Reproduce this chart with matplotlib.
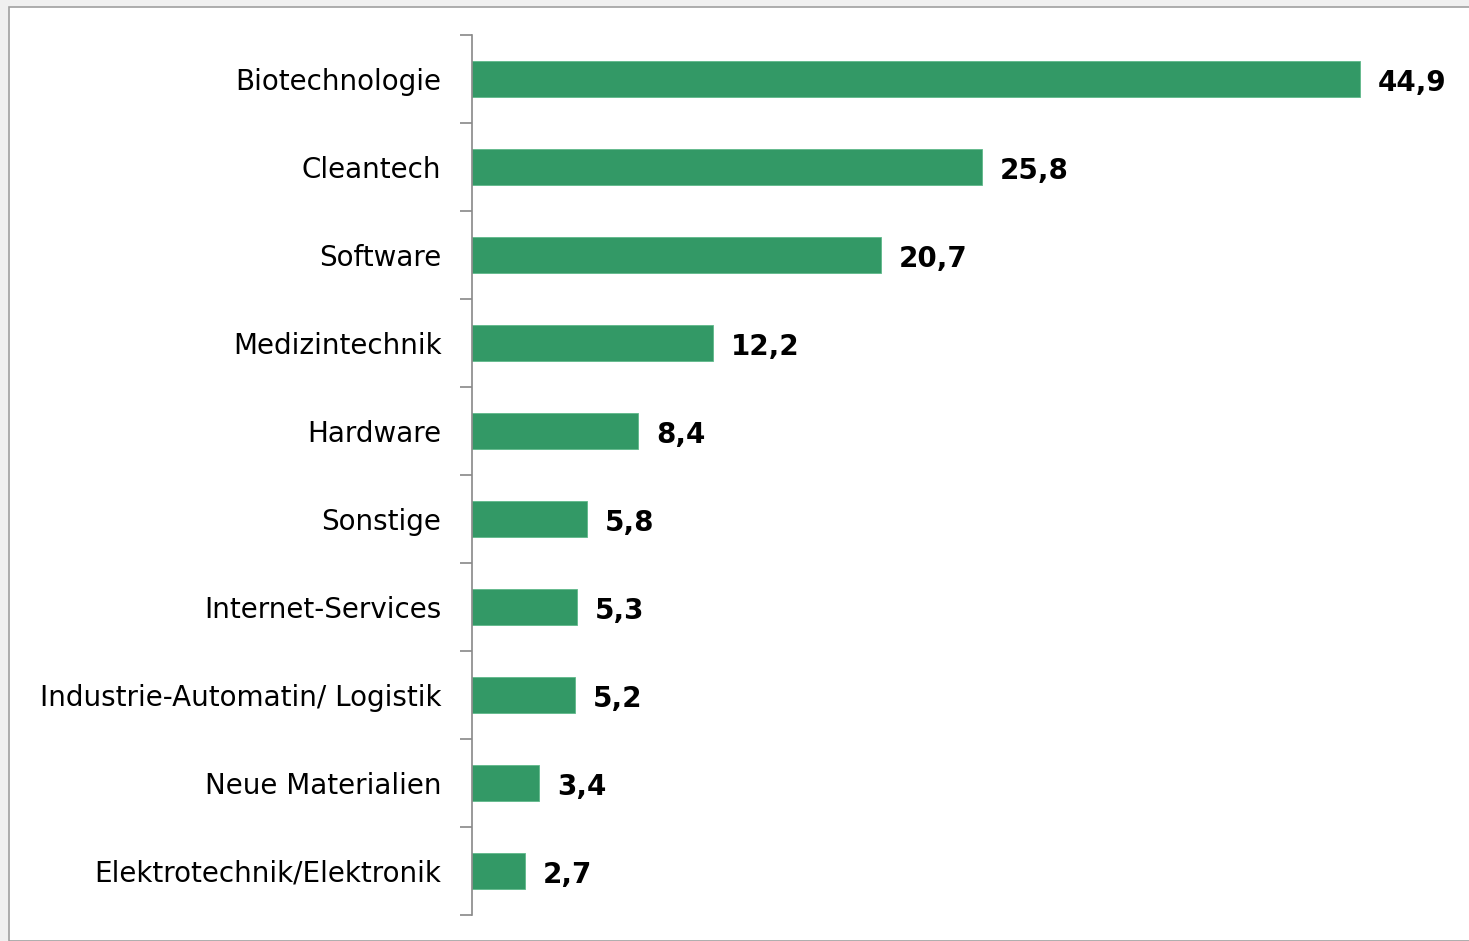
import matplotlib.pyplot as plt
from matplotlib.patches import Rectangle

categories = ["Biotechnologie", "Cleantech", "Software", "Medizintechnik", "Hardware",
              "Sonstige", "Internet-Services", "Industrie-Automatin/ Logistik",
              "Neue Materialien", "Elektrotechnik/Elektronik"]
values = [44.9, 25.8, 20.7, 12.2, 8.4, 5.8, 5.3, 5.2, 3.4, 2.7]
value_labels = ["44,9", "25,8", "20,7", "12,2", "8,4", "5,8", "5,3", "5,2", "3,4", "2,7"]

W, H = 1469, 941
fig = plt.figure(figsize=(W / 100, H / 100), dpi=100, facecolor="#f0f0f0")
fig.patches.append(Rectangle((9 / W, 0), 1, 1 - 7 / H, transform=fig.transFigure,
                             facecolor="white", edgecolor="#a0a0a0", linewidth=1.2, zorder=-5))

ax = fig.add_axes([472 / W, 26 / H, (W - 472) / W, 880 / H])
ax.set_facecolor("none")

y = list(range(len(categories)))
ax.barh(y, values, height=0.4, color="#339966", edgecolor="#5fb88a", linewidth=0.6)
ax.set_ylim(len(categories) - 0.5, -0.5)
ax.set_xlim(0, 997 / 19.78)

for yi, v, lab in zip(y, values, value_labels):
    ax.text(v + 0.9, yi + 0.04, lab, va="center", ha="left", fontsize=20, fontweight="bold")

ax.set_yticks(y)
ax.set_yticklabels(categories, fontsize=20)
ax.tick_params(axis="y", length=0, pad=22)
ax.set_yticks([i - 0.5 for i in range(len(categories) + 1)], minor=True)
ax.tick_params(axis="y", which="minor", length=9, color="#888888", width=1.2)
ax.set_xticks([])
for s in ["top", "right", "bottom"]:
    ax.spines[s].set_visible(False)
ax.spines["left"].set_color("#888888")
ax.spines["left"].set_linewidth(1.2)

fig.savefig("out.png", dpi=100, facecolor=fig.get_facecolor())
